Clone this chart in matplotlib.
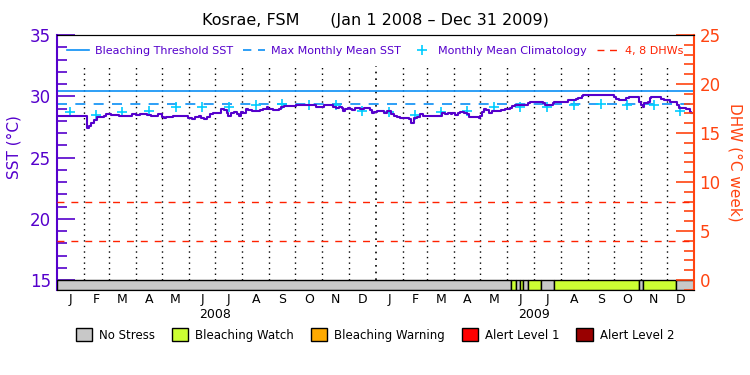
import numpy as np
import matplotlib
matplotlib.use("Agg")
import matplotlib.pyplot as plt
from matplotlib.lines import Line2D
from matplotlib.patches import Patch
from matplotlib.ticker import MultipleLocator

# ---------------- data ----------------
title = "Kosrae, FSM      (Jan 1 2008 \u2013 Dec 31 2009)"
start_date = np.datetime64("2008-01-01")
end_date = np.datetime64("2010-01-01")
month_letters = ["J", "F", "M", "A", "M", "J", "J", "A", "S", "O", "N", "D"]
years = ["2008", "2009"]

# SST (deg C) vertices: day offset from Jan 1 2008, value
sst_days = [0, 33, 35, 37, 39, 43, 47, 51, 54, 57, 62, 68, 72, 78, 83, 87, 91, 96,
            104, 108, 112, 116, 119, 121, 123, 126, 134, 142, 147, 151, 155, 159,
            163, 166, 169, 172, 176, 180, 187, 189, 192, 195, 197, 200, 203, 207,
            209, 212, 214, 217, 220, 224, 233, 237, 241, 243, 248, 252, 255, 257,
            261, 273, 275, 296, 298, 305, 307, 313, 317, 320, 324, 327, 329, 331,
            334, 336, 339, 342, 345, 348, 353, 357, 360, 362, 364, 368, 371, 375,
            379, 383, 387, 390, 394, 400, 404, 407, 410, 413, 417, 420, 423, 438,
            442, 446, 449, 452, 454, 457, 460, 463, 467, 471, 473, 482, 484, 486,
            488, 490, 493, 496, 499, 506, 510, 514, 520, 522, 526, 537, 541, 543,
            556, 558, 560, 566, 569, 571, 583, 587, 596, 598, 602, 604, 637, 639,
            641, 645, 649, 653, 657, 666, 668, 670, 672, 674, 678, 680, 682, 691,
            693, 697, 703, 710, 712, 714, 719, 722, 726, 728, 730]
sst_vals = [28.36, 28.36, 27.38, 27.60, 27.79, 28.06, 28.33, 28.30, 28.39, 28.52,
            28.47, 28.47, 28.36, 28.39, 28.42, 28.52, 28.47, 28.52, 28.47, 28.42,
            28.39, 28.52, 28.57, 28.33, 28.20, 28.33, 28.39, 28.42, 28.42, 28.20,
            28.15, 28.33, 28.42, 28.20, 28.15, 28.30, 28.55, 28.66, 28.66, 28.96,
            28.88, 28.60, 28.42, 28.60, 28.68, 28.52, 28.42, 28.74, 28.60, 28.96,
            28.88, 28.82, 28.85, 28.96, 29.10, 28.96, 28.88, 28.88, 28.96, 29.15,
            29.20, 29.20, 29.29, 29.29, 29.15, 29.15, 29.29, 29.29, 29.15, 29.07,
            29.15, 29.07, 28.82, 28.96, 29.07, 28.93, 28.88, 29.02, 29.07, 28.96,
            29.07, 29.07, 28.88, 28.60, 28.74, 28.80, 28.80, 28.66, 28.80, 28.52,
            28.42, 28.29, 28.20, 28.25, 28.12, 27.84, 28.20, 28.33, 28.52, 28.42,
            28.42, 28.42, 28.60, 28.52, 28.66, 28.52, 28.60, 28.47, 28.60, 28.74,
            28.60, 28.52, 28.29, 28.29, 28.20, 28.42, 28.74, 28.96, 28.88, 28.60,
            28.80, 28.80, 28.90, 28.96, 29.07, 29.20, 29.29, 29.29, 29.42, 29.56,
            29.56, 29.42, 29.29, 29.29, 29.42, 29.56, 29.56, 29.69, 29.74, 29.88,
            30.02, 30.12, 30.10, 29.97, 29.78, 29.69, 29.69, 29.88, 29.94, 29.94,
            29.56, 29.29, 29.15, 29.42, 29.50, 29.83, 29.94, 29.94, 29.80, 29.69,
            29.56, 29.56, 29.29, 29.07, 29.07, 28.96, 28.74, 28.60, 28.60]

# monthly mean climatology (deg C), Jan..Dec
climatology = [28.69, 28.45, 28.72, 28.78, 29.13, 29.10, 29.12, 29.27, 29.36,
               29.32, 29.32, 28.82]
mmm_sst = 29.35
bleaching_threshold = 30.42
dhw_levels = [4, 8]

# bleaching status segments (day offsets from Jan 1 2008)
status_start = [0, 521, 527, 532, 535, 541, 556, 570, 668, 672, 710]
status_end = [521, 527, 532, 535, 541, 556, 570, 668, 672, 710, 731]
status_level = ["No Stress", "Bleaching Watch", "No Stress", "Bleaching Watch",
                "No Stress", "Bleaching Watch", "No Stress", "Bleaching Watch",
                "No Stress", "Bleaching Watch", "No Stress"]
status_names = ["No Stress", "Bleaching Watch", "Bleaching Warning",
                "Alert Level 1", "Alert Level 2"]
status_colors = ["#c8c8c8", "#ccff33", "#ffaa00", "#ff0000", "#990000"]

# ---------------- styles ----------------
PURPLE = "#5500cc"
ORANGE = "#ff4411"
BLUE = "#0a8ff5"
CYAN = "#00ccff"
RED = "#ff2200"

total_days = int((end_date - start_date).astype(int))
month_starts = np.arange(np.datetime64("2008-01"), np.datetime64("2010-02"),
                         dtype="datetime64[M]").astype("datetime64[D]")
month_days = (month_starts - start_date).astype(int)
month_centers = (month_days[:-1] + month_days[1:]) / 2.0

sst_lo, sst_hi = 15 - 10 / 12.25, 35
dhw_lo, dhw_hi = -10 / 9.8, 25

fig = plt.figure(figsize=(7.5, 3.75), dpi=100)
ax = fig.add_axes([56.5 / 750, 85 / 375, (694 - 56.5) / 750, 255 / 375])
ax.set_xlim(0, total_days)
ax.set_ylim(sst_lo, sst_hi)

# vertical month grid
for d in month_days[1:-1]:
    lw = 1.2 if d == month_days[12] else 1.0
    ax.plot([d, d], [15, 32.5], color="black", linestyle=(0, (1, 3)), lw=lw,
            zorder=1)

# thresholds
ax.axhline(bleaching_threshold, color=BLUE, lw=1.2, zorder=2)
ax.axhline(mmm_sst, color=BLUE, lw=1.2, ls=(0, (6, 5)), zorder=2)

# climatology crosses
clim_x = month_centers
clim_y = climatology * 2
ax.plot(clim_x, clim_y, linestyle="none", marker="+", markersize=7.5, mew=1.2,
        color=CYAN, zorder=3)

# SST line
ax.plot(sst_days, sst_vals, color=PURPLE, lw=1.5, drawstyle="steps-post",
        zorder=4)

# status bar
col_map = dict(zip(status_names, status_colors))
widths = np.array(status_end) - np.array(status_start)
ax.bar(status_start, 15 - sst_lo, width=widths, bottom=sst_lo,
       align="edge", color=[col_map[s] for s in status_level],
       edgecolor="black", linewidth=1.0, zorder=5)

# DHW axis
ax2 = ax.twinx()
ax2.set_ylim(dhw_lo, dhw_hi)
for lv in dhw_levels:
    ax2.axhline(lv, color=RED, lw=1.0, ls=(0, (5, 5)), zorder=2)

# spines
ax.spines["left"].set_color(PURPLE)
ax.spines["left"].set_linewidth(1.5)
ax2.spines["left"].set_visible(False)
ax2.spines["right"].set_color(ORANGE)
ax2.spines["right"].set_linewidth(1.5)
for a in (ax, ax2):
    a.spines["top"].set_color("black")
    a.spines["bottom"].set_color("black")
ax.spines["right"].set_visible(False)

# y ticks
ax.yaxis.set_major_locator(MultipleLocator(5))
ax.yaxis.set_minor_locator(MultipleLocator(1))
ax.tick_params(axis="y", which="major", direction="in", length=13, width=1.2,
               color=PURPLE, labelcolor=PURPLE, labelsize=12, pad=4)
ax.tick_params(axis="y", which="minor", direction="in", length=7, width=1.2,
               color=PURPLE)
ax.set_ylabel("SST (\u00b0C)", color=PURPLE, fontsize=11, labelpad=10)
ax.yaxis.set_label_coords(-0.055, 0.56)

ax2.yaxis.set_major_locator(MultipleLocator(5))
ax2.yaxis.set_minor_locator(MultipleLocator(1))
ax2.tick_params(axis="y", which="major", direction="in", length=13, width=1.2,
                color=ORANGE, labelcolor=ORANGE, labelsize=12, pad=4)
ax2.tick_params(axis="y", which="minor", direction="in", length=7, width=1.2,
                color=ORANGE)
ax2.set_ylabel("DHW (\u00b0C week)", color=ORANGE, fontsize=11, rotation=270,
               labelpad=16)

# x ticks: month letters
ax.set_xticks(month_centers)
ax.set_xticklabels(month_letters * 2, fontsize=9)
ax.tick_params(axis="x", length=0, pad=2.5)
ax2.tick_params(axis="x", length=0)
for i, yr in enumerate(years):
    ax.annotate(yr, xy=(month_days[12 * i + 6], 0), xycoords=("data", "axes fraction"),
                xytext=(0, -18), textcoords="offset points", ha="center",
                va="center", fontsize=9)

# title
fig.text(0.5, 1 - 20 / 375, title, ha="center", va="center", fontsize=11.5)

# top legend
handles = [Line2D([], [], color=BLUE, lw=1.2),
           Line2D([], [], color=BLUE, lw=1.2, ls=(0, (5, 4))),
           Line2D([], [], color=CYAN, ls="none", marker="+", markersize=7.5, mew=1.2),
           Line2D([], [], color=RED, lw=1.0, ls=(0, (5, 4)))]
labels = ["Bleaching Threshold SST", "Max Monthly Mean SST",
          "Monthly Mean Climatology", "4, 8 DHWs"]
leg = ax2.legend(handles, labels, loc="center", bbox_to_anchor=(0.5, 1 - 16 / 255),
                 ncol=4, frameon=False, fontsize=8, handlelength=2.0,
                 handletextpad=0.5, columnspacing=0.9, borderaxespad=0,
                 borderpad=0)
for t, c in zip(leg.get_texts(), [PURPLE, PURPLE, PURPLE, RED]):
    t.set_color(c)

# bottom status legend
phandles = [Patch(facecolor=c, edgecolor="black", lw=1) for c in status_colors]
fig.legend(phandles, status_names, loc="center", bbox_to_anchor=(0.5, 1 - 335 / 375),
           ncol=5, frameon=False, fontsize=8.5, handlelength=1.4, handleheight=1.2,
           handletextpad=0.6, columnspacing=1.4)

fig.savefig("out.png", dpi=100)
